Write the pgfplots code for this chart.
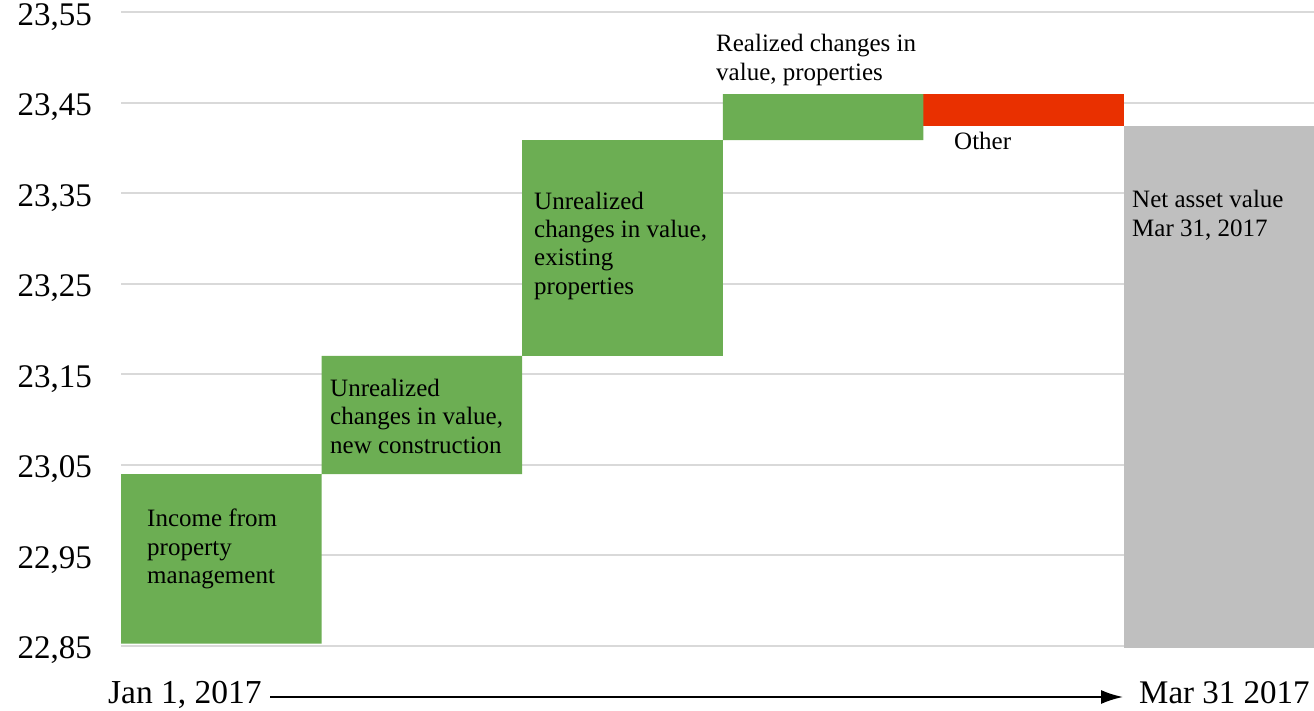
\documentclass[border=0pt]{standalone}
\usepackage{pgfplots}
\pgfplotsset{compat=1.18}
\usepackage{pgfplotstable}
\usepackage{fontspec}
\setmainfont{Liberation Serif}
\usetikzlibrary{arrows.meta}
\definecolor{wfgreen}{RGB}{108,174,83}
\definecolor{wfred}{RGB}{233,48,0}
\definecolor{wfgray}{RGB}{191,191,191}
\definecolor{gridgray}{RGB}{217,217,217}
\pgfplotstableread{
x base green red gray
0 22.852 0.1875 0 0
1 23.0395 0.1305 0 0
2 23.170 0.2386 0 0
3 23.4086 0.0508 0 0
4 23.4244 0 0.0350 0
5 22.8476 0 0 0.5768
}\wfdata
\begin{document}
\begin{tikzpicture}[x=1pt,y=1pt]
\useasboundingbox (0,0) rectangle (1314,710);
\begin{axis}[
  at={(121pt,55.45pt)}, anchor=south west,
  scale only axis, width=1193pt, height=651.55pt,
  xmin=-0.5, xmax=5.447, ymin=22.84, ymax=23.56,
  ybar stacked, bar width=1,
  axis line style={draw=none},
  xtick=\empty,
  ytick={22.85,22.95,23.05,23.15,23.25,23.35,23.45,23.55},
  ymajorgrids, grid style={gridgray, line width=2pt},
  major tick length=0pt,
  yticklabel style={/pgf/number format/.cd, use comma, fixed, fixed zerofill, precision=2, assume math mode=true, /tikz/.cd, font=\fontsize{33}{36}\selectfont, anchor=east, inner sep=0pt, xshift=-29pt, yshift=-5pt},
  clip=true,
]
\addplot[draw=none, fill=none] table[x=x,y=base] {\wfdata};
\addplot[draw=none, fill=wfgreen] table[x=x,y=green] {\wfdata};
\addplot[draw=none, fill=wfred] table[x=x,y=red] {\wfdata};
\addplot[draw=none, fill=wfgray] table[x=x,y=gray] {\wfdata};
\end{axis}
\begin{scope}[every node/.style={anchor=base west, inner sep=0pt, font=\fontsize{25}{28}\selectfont}]
\node at (147,184) {Income from};
\node at (147,155) {property};
\node at (147,127) {management};
\node at (330,313) {Unrealized};
\node at (330,285) {changes in value,};
\node at (330,256) {new construction};
\node at (534,500) {Unrealized};
\node at (534,472) {changes in value,};
\node at (534,444) {existing};
\node at (534,415) {properties};
\node at (716,658) {Realized changes in};
\node at (716,629) {value, properties};
\node at (954,560) {Other};
\node at (1132,502) {Net asset value};
\node at (1132,473) {Mar 31, 2017};
\node[font=\fontsize{33.5}{36}\selectfont] at (108,7) {Jan 1, 2017};
\node[font=\fontsize{33}{36}\selectfont] at (1139,7) {Mar 31 2017};
\end{scope}
\draw[line width=2pt, -{Latex[length=22pt,width=14pt]}] (270,13) -- (1123,13);
\end{tikzpicture}
\end{document}
